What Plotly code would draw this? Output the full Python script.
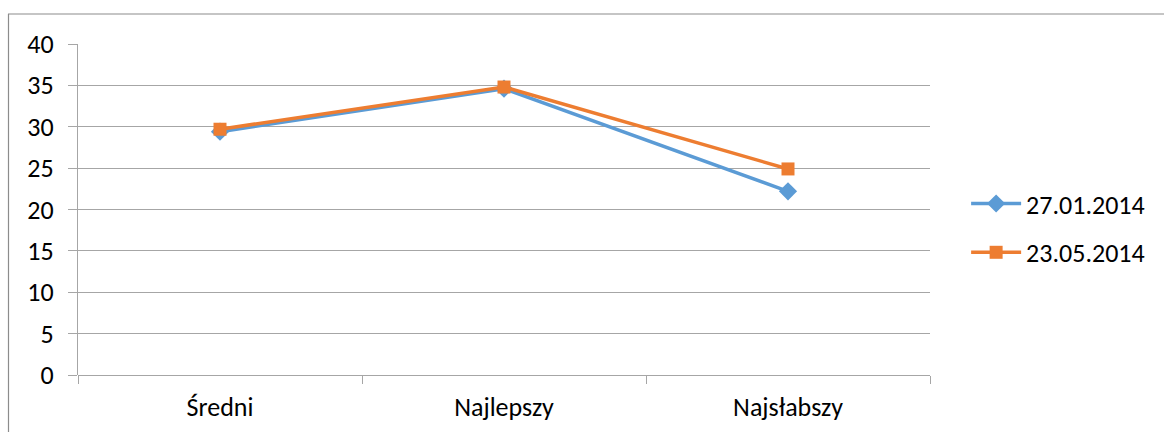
import plotly.graph_objects as go

# Chart data
categories = ["Średni", "Najlepszy", "Najsłabszy"]
series_names = ["27.01.2014", "23.05.2014"]
values_jan = [29.4, 34.6, 22.2]
values_may = [29.7, 34.8, 24.9]
y_ticks = [0, 5, 10, 15, 20, 25, 30, 35, 40]

W, H = 1164, 432
L, R, T, B = 78, 234, 44, 57
FONT = "Calibri, Carlito, Lato, sans-serif"
FS = 26
GRID = "#a6a6a6"
BLUE = "#5b9bd5"
ORANGE = "#ed7d31"

fig = go.Figure()
fig.add_trace(go.Scatter(
    x=categories, y=values_jan, name=series_names[0], mode="lines+markers",
    legendgroup="a",
    line=dict(color=BLUE, width=3.5),
    marker=dict(symbol="diamond", size=14, color=BLUE),
))
fig.add_trace(go.Scatter(
    x=categories, y=values_may, name=series_names[1], mode="lines+markers",
    legendgroup="b",
    line=dict(color=ORANGE, width=3.5),
    marker=dict(symbol="square", size=13, color=ORANGE),
))

# outer chart frame (top and left edges)
pw, ph = W - L - R, H - T - B
def px_x(p):
    return (p - L) / pw
def px_y(p):
    return (H - B - p) / ph

fig.add_shape(type="line", xref="paper", yref="paper",
              x0=px_x(8), x1=px_x(1164), y0=px_y(14), y1=px_y(14),
              line=dict(color="#8c8c8c", width=1.2))
fig.add_shape(type="line", xref="paper", yref="paper",
              x0=px_x(8.5), x1=px_x(8.5), y0=px_y(14), y1=px_y(432),
              line=dict(color="#8c8c8c", width=1.2))

fig.update_layout(
    width=W, height=H,
    margin=dict(l=L, r=R, t=T, b=B, autoexpand=False),
    paper_bgcolor="white", plot_bgcolor="white",
    font=dict(family=FONT, size=FS, color="#000000"),
    showlegend=True,
    legend=dict(
        x=0.83, xref="container", y=0.472, yref="container",
        xanchor="left", yanchor="middle",
        font=dict(family=FONT, size=FS, color="#000000"),
        itemwidth=50, tracegroupgap=12,
    ),
    xaxis=dict(
        type="category", range=[-0.5, 2.5], automargin=False,
        showgrid=False, zeroline=False,
        showline=False,
        ticks="outside", tickson="boundaries", ticklen=8,
        tickcolor=GRID, tickwidth=1.3,
        tickfont=dict(family=FONT, size=FS),
        ticklabelstandoff=14,
    ),
    yaxis=dict(
        range=[0, 40], tickvals=y_ticks, automargin=False,
        showgrid=True, gridcolor=GRID, gridwidth=1.3,
        zeroline=True, zerolinecolor=GRID, zerolinewidth=1.3,
        showline=True, linecolor=GRID, linewidth=1.3,
        ticks="outside", ticklen=9, tickcolor=GRID, tickwidth=1.3,
        tickfont=dict(family=FONT, size=FS),
        ticklabelstandoff=9,
    ),
)

fig.write_html("out.html")
